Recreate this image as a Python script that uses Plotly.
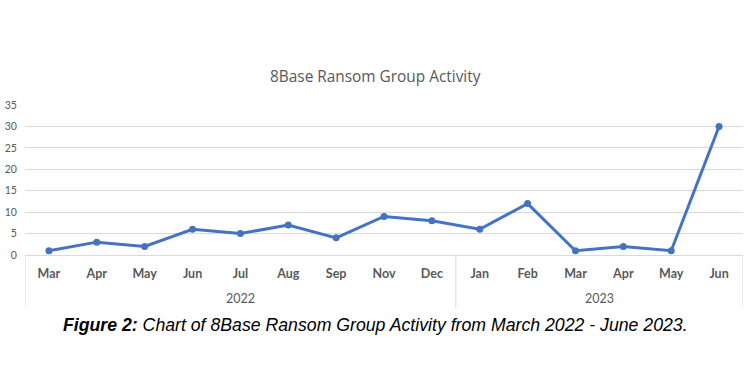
import plotly.graph_objects as go

months = ["Mar", "Apr", "May", "Jun", "Jul", "Aug", "Sep", "Nov", "Dec",
          "Jan", "Feb", "Mar", "Apr", "May", "Jun"]
years = ["2022"] * 9 + ["2023"] * 6
activity = [1, 3, 2, 6, 5, 7, 4, 9, 8, 6, 12, 1, 2, 1, 30]
y_ticks = [0, 5, 10, 15, 20, 25, 30, 35]

title_text = "8Base Ransom Group Activity"
caption_bold = "Figure 2:"
caption_rest = " Chart of 8Base Ransom Group Activity from March 2022 - June 2023."

idx = list(range(len(months)))
grey = "#595959"
line_col = "#d9d9d9"
chart_font = "Lato"

fig = go.Figure()
fig.add_trace(go.Scatter(
    x=idx, y=activity, mode="lines+markers",
    line=dict(color="#4472C4", width=3),
    marker=dict(color="#4472C4", size=7),
    showlegend=False,
))

# year group labels and dividers
groups = []
for i, yr in enumerate(years):
    if not groups or groups[-1][0] != yr:
        groups.append([yr, i, i])
    else:
        groups[-1][2] = i

annotations = []
shapes = []
for yr, s, e in groups:
    annotations.append(dict(
        x=(s + e) / 2, y=-0.293, xref="x", yref="paper", text=yr,
        showarrow=False, font=dict(family=chart_font, size=12.5, color=grey),
        yanchor="middle"))
    shapes.append(dict(type="line", xref="x", yref="paper", x0=s - 0.5, x1=s - 0.5,
                       y0=0, y1=-0.355, line=dict(color=line_col, width=1)))
shapes.append(dict(type="line", xref="x", yref="paper", x0=idx[-1] + 0.5, x1=idx[-1] + 0.5,
                   y0=0, y1=-0.355, line=dict(color=line_col, width=1)))

annotations.append(dict(
    x=0.4875, y=-0.467, xref="paper", yref="paper",
    text="<b><i>" + caption_bold + "</i></b><i>" + caption_rest + "</i>",
    showarrow=False, xanchor="center", yanchor="middle",
    font=dict(family="Liberation Sans", size=17.7, color="black")))

annotations.append(dict(
    x=0.4875, y=1.19, xref="paper", yref="paper", text=title_text,
    showarrow=False, xanchor="center", yanchor="middle",
    font=dict(family="Open Sans", size=15.4, color=grey)))

fig.update_layout(
    width=750, height=375,
    margin=dict(l=25, r=7, t=105, b=120),
    paper_bgcolor="white", plot_bgcolor="white",
    annotations=annotations, shapes=shapes,
    xaxis=dict(
        range=[-0.5, idx[-1] + 0.5],
        tickmode="array", tickvals=idx,
        ticktext=["<b>" + m + "</b>" for m in months],
        tickfont=dict(family=chart_font, size=12.5, color=grey),
        ticks="outside", ticklen=7, tickcolor="rgba(0,0,0,0)",
        showgrid=False, zeroline=False,
        showline=True, linecolor=line_col, linewidth=1,
        fixedrange=True, automargin=False,
    ),
    yaxis=dict(
        range=[0, 35], tickmode="array", tickvals=y_ticks,
        tickfont=dict(family=chart_font, size=10.5, color=grey),
        ticks="outside", ticklen=5, tickcolor="rgba(0,0,0,0)",
        showgrid=True, gridcolor=line_col, gridwidth=1,
        zeroline=False, showline=False, automargin=False,
    ),
)

fig.write_html("out.html")
